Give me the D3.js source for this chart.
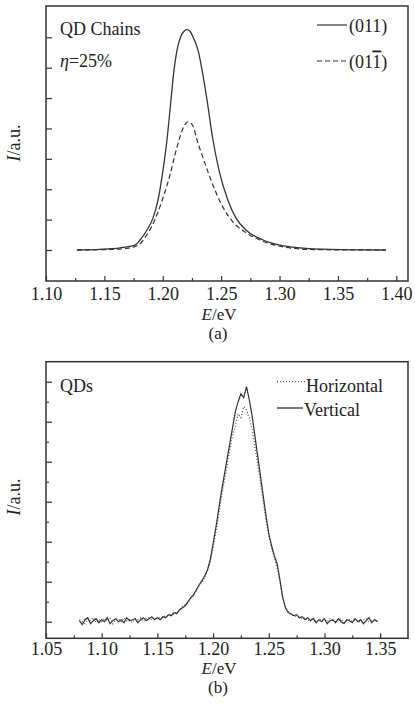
<!DOCTYPE html>
<html>
<head>
<meta charset="utf-8">
<script src="https://cdn.jsdelivr.net/npm/d3@7"></script>
<style>
  body { margin: 0; background: #fff; }
  svg text { font-family: "Liberation Serif", "Times New Roman", serif; font-size: 18px; fill: #222; }
  svg text.title { font-size: 17px; }
</style>
</head>
<body>
<svg width="415" height="708"></svg>
<script>
// (a) QD chains, eta = 25%, two polarisations
const energyA011 = [1.1265, 1.1462, 1.1634, 1.1762, 1.1805, 1.1865, 1.1916, 1.1959, 1.2002, 1.2036,
  1.2070, 1.2096, 1.2122, 1.2156, 1.2182, 1.2207, 1.2233, 1.2259, 1.2302, 1.2344,
  1.2379, 1.2430, 1.2481, 1.2558, 1.2627, 1.2712, 1.2858, 1.3004, 1.3175, 1.3432, 1.3911];
const intensityA011 = [0, 0.02, 0.07, 0.16, 0.33, 0.66, 1.05, 1.64, 2.63, 3.62,
  4.93, 5.92, 6.58, 7.04, 7.20, 7.25, 7.20, 7.01, 6.58, 5.76,
  4.93, 3.62, 2.63, 1.64, 1.05, 0.66, 0.33, 0.16, 0.07, 0.02, 0];

const energyA01T = [1.1265, 1.1548, 1.1676, 1.1753, 1.1813, 1.1856, 1.1908, 1.1959, 1.2010, 1.2062,
  1.2104, 1.2147, 1.2182, 1.2216, 1.2259, 1.2293, 1.2336, 1.2387, 1.2447, 1.2515,
  1.2601, 1.2704, 1.2832, 1.2960, 1.3132, 1.3345, 1.3911];
const intensityA01T = [0, 0.02, 0.05, 0.10, 0.23, 0.46, 0.79, 1.25, 1.81, 2.47,
  3.13, 3.72, 4.08, 4.22, 4.08, 3.62, 3.13, 2.57, 1.97, 1.41,
  0.92, 0.59, 0.33, 0.16, 0.05, 0.01, 0];

// (b) QDs, horizontal / vertical
const energyB = [1.0800, 1.0825, 1.0850, 1.0875, 1.0900, 1.0925, 1.0950, 1.0975,
  1.1000, 1.1025, 1.1050, 1.1075, 1.1100, 1.1125, 1.1150, 1.1175,
  1.1200, 1.1225, 1.1250, 1.1275, 1.1300, 1.1325, 1.1350, 1.1375,
  1.1400, 1.1425, 1.1450, 1.1475,
  1.1500, 1.1525, 1.1550, 1.1575, 1.1600, 1.1625, 1.1650, 1.1675,
  1.1700, 1.1725, 1.1750, 1.1775, 1.1800, 1.1825, 1.1850, 1.1875,
  1.1900, 1.1925, 1.1950, 1.1975,
  1.2000, 1.2025, 1.2050, 1.2075, 1.2100, 1.2125, 1.2150, 1.2175, 1.2200, 1.2225,
  1.2250, 1.2275, 1.2300, 1.2325, 1.2350, 1.2375, 1.2400, 1.2425, 1.2450, 1.2475,
  1.2500, 1.2525, 1.2550, 1.2575, 1.2600, 1.2625, 1.2650, 1.2675, 1.2700, 1.2725,
  1.2750, 1.2775, 1.2800, 1.2825, 1.2850, 1.2875, 1.2900, 1.2925, 1.2950, 1.2975,
  1.3000, 1.3025, 1.3050, 1.3075, 1.3100, 1.3125, 1.3150, 1.3175, 1.3200, 1.3225,
  1.3250, 1.3275, 1.3300, 1.3325, 1.3350, 1.3375, 1.3400, 1.3425, 1.3450, 1.3475];

const intensityVertical = [0.05, -0.15, 0.1, 0.2, -0.1, 0.05, 0.15, -0.05, 0.1, 0.0,
  0.2, -0.1, 0.05, 0.15, 0.0, 0.1, -0.05, 0.2, 0.05, 0.1,
  0.15, -0.05, 0.1, 0.2, 0.05, 0.15, 0.25, 0.1,
  0.2, 0.1, 0.25, 0.2, 0.35, 0.3, 0.45, 0.4, 0.6, 0.7, 0.8, 1.0, 1.2, 1.35, 1.6, 1.85,
  2.05, 2.3, 2.6, 3.1,
  3.9, 4.7, 5.6, 6.5, 7.3, 8.1, 8.9, 9.7, 10.5, 11.0,
  11.4, 11.2, 11.75, 11.1, 10.3, 9.3, 8.3, 7.3, 6.3, 5.3,
  4.4, 3.8, 3.3, 2.9, 2.1, 1.2, 0.7, 0.45, 0.4, 0.3, 0.35, 0.2,
  0.25, 0.1, 0.2, 0.05, 0.15, -0.05, 0.1, 0.0, 0.15, -0.1,
  0.05, 0.1, -0.05, 0.15, 0.0, -0.1, 0.1, 0.05, -0.05, 0.15,
  0.0, 0.1, -0.1, 0.05, 0.2, -0.05, 0.1, 0.0];

const intensityHorizontal = [0.1, 0.0, -0.1, 0.15, 0.05, 0.2, -0.05, 0.1, 0.0, 0.15,
  0.05, 0.2, -0.1, 0.1, 0.15, 0.0, 0.2, 0.05, 0.1, -0.05,
  0.15, 0.1, 0.2, 0.0, 0.15, 0.2, 0.1, 0.2,
  0.15, 0.2, 0.2, 0.3, 0.3, 0.35, 0.4, 0.5, 0.55, 0.75, 0.85, 0.95, 1.15, 1.3, 1.55, 1.8,
  1.95, 2.2, 2.55, 3.0,
  3.7, 4.5, 5.3, 6.2, 7.0, 7.8, 8.6, 9.3, 9.8, 10.4,
  10.2, 10.75, 10.6, 10.2, 9.6, 8.8, 7.9, 7.0, 6.0, 5.1,
  4.3, 3.7, 3.2, 2.7, 2.0, 1.2, 0.75, 0.5, 0.35, 0.3, 0.25, 0.2,
  0.15, 0.2, 0.05, 0.1, 0.2, 0.0, 0.05, 0.15, 0.1, 0.0,
  0.15, 0.05, 0.0, 0.1, 0.15, -0.05, 0.05, 0.1, 0.0, 0.1,
  0.05, -0.05, 0.1, 0.15, 0.0, 0.05, 0.1, 0.05];

// tick values
const xMajorA = [1.10, 1.15, 1.20, 1.25, 1.30, 1.35, 1.40];
const xMinorA = [1.125, 1.175, 1.225, 1.275, 1.325, 1.375];
const yTicksA = [0, 1, 2, 3, 4, 5, 6, 7];
const xMajorB = [1.05, 1.10, 1.15, 1.20, 1.25, 1.30, 1.35];
const xMinorB = [1.075, 1.125, 1.175, 1.225, 1.275, 1.325];
const yMajorB = [0, 2, 4, 6, 8, 10, 12];
const yMinorB = [1, 3, 5, 7, 9, 11];

const INK = '#333';
const svg = d3.select('svg');

/* draws frame, ticks and titles of one panel, returns its scales */
function drawPanel(p) {
  const x = d3.scaleLinear().domain(p.xDomain).range([p.left, p.right]);
  const y = d3.scaleLinear().domain(p.yDomain).range([p.bottom, p.top]);
  const g = svg.append('g');

  g.append('rect')
    .attr('x', p.left).attr('y', p.top)
    .attr('width', p.right - p.left).attr('height', p.bottom - p.top)
    .attr('fill', 'none').attr('stroke', INK).attr('stroke-width', 1.5);

  // x ticks point inward
  g.append('g').attr('transform', `translate(0,${p.bottom})`).attr('color', INK)
    .call(d3.axisBottom(x).tickValues(p.xMinor).tickSize(-3).tickFormat(''))
    .call(s => s.select('.domain').remove());
  g.append('g').attr('transform', `translate(0,${p.bottom})`).attr('color', INK)
    .call(d3.axisBottom(x).tickValues(p.xMajor).tickSize(-5).tickPadding(p.pad).tickFormat(d3.format('.2f')))
    .call(s => s.select('.domain').remove())
    .attr('font-size', null).attr('font-family', null);

  g.append('g').attr('transform', `translate(${p.left},0)`).attr('color', INK)
    .call(d3.axisLeft(y).tickValues(p.yMajor).tickSize(-6).tickFormat(''))
    .call(s => s.select('.domain').remove());
  if (p.yMinor) {
    g.append('g').attr('transform', `translate(${p.left},0)`).attr('color', INK)
      .call(d3.axisLeft(y).tickValues(p.yMinor).tickSize(-3).tickFormat(''))
      .call(s => s.select('.domain').remove());
  }
  g.selectAll('.tick line').attr('stroke-width', 1.2);

  // axis titles
  const yt = g.append('text')
    .attr('transform', `translate(20,${p.yTitleY}) rotate(-90)`)
    .attr('text-anchor', 'middle');
  yt.append('tspan').attr('font-style', 'italic').text('I');
  yt.append('tspan').text('/a.u.');

  const xt = g.append('text').attr('class', 'title')
    .attr('x', 219).attr('y', p.xTitleY).attr('text-anchor', 'middle');
  xt.append('tspan').attr('font-style', 'italic').text('E');
  xt.append('tspan').text('/eV');

  g.append('text').attr('class', 'title')
    .attr('x', 218).attr('y', p.xTitleY + 19).attr('text-anchor', 'middle').text(p.tag);

  return {g, x, y};
}

/* ---------- panel (a) ---------- */
const A = drawPanel({
  left: 46, right: 408, top: 6, bottom: 281,
  xDomain: [1.10, 1.41], yDomain: [-1.02, 8.03],
  xMajor: xMajorA, xMinor: xMinorA, yMajor: yTicksA, pad: 6,
  yTitleY: 143, xTitleY: 320, tag: '(a)'
});

const lineA = (xs, ys) => d3.line()
  .x((d, i) => A.x(xs[i])).y(d => A.y(d))
  .curve(d3.curveMonotoneX)(ys);

A.g.append('path').attr('d', lineA(energyA01T, intensityA01T))
  .attr('fill', 'none').attr('stroke', INK).attr('stroke-width', 1.2).attr('stroke-dasharray', '5,3');
A.g.append('path').attr('d', lineA(energyA011, intensityA011))
  .attr('fill', 'none').attr('stroke', INK).attr('stroke-width', 1.3);

A.g.append('text').attr('x', 60).attr('y', 35).text('QD Chains');
const eta = A.g.append('text').attr('x', 60).attr('y', 66.5);
eta.append('tspan').attr('font-style', 'italic').text('η');
eta.append('tspan').text('=25%');

A.g.append('line').attr('x1', 317).attr('x2', 347).attr('y1', 25).attr('y2', 25)
  .attr('stroke', INK).attr('stroke-width', 1.2);
A.g.append('text').attr('x', 349).attr('y', 31.5).text('(011)');
A.g.append('line').attr('x1', 317).attr('x2', 347).attr('y1', 61).attr('y2', 61)
  .attr('stroke', INK).attr('stroke-width', 1.2).attr('stroke-dasharray', '5,3');
const leg2 = A.g.append('text').attr('x', 349).attr('y', 67.5);
leg2.append('tspan').text('(01');
leg2.append('tspan').style('text-decoration', 'overline').text('1');
leg2.append('tspan').text(')');

/* ---------- panel (b) ---------- */
const B = drawPanel({
  left: 46, right: 408, top: 361.7, bottom: 638.3,
  xDomain: [1.05, 1.375], yDomain: [-0.83, 13.0],
  xMajor: xMajorB, xMinor: xMinorB, yMajor: yMajorB, yMinor: yMinorB, pad: 4,
  yTitleY: 497, xTitleY: 674, tag: '(b)'
});

const lineB = d3.line().x((d, i) => B.x(energyB[i])).y(d => B.y(d));

B.g.append('path').attr('d', lineB(intensityHorizontal))
  .attr('fill', 'none').attr('stroke', '#555').attr('stroke-width', 1.2).attr('stroke-dasharray', '1,2');
B.g.append('path').attr('d', lineB(intensityVertical))
  .attr('fill', 'none').attr('stroke', INK).attr('stroke-width', 1.2);

B.g.append('text').attr('x', 60).attr('y', 391.5).text('QDs');
B.g.append('line').attr('x1', 277).attr('x2', 305).attr('y1', 381.7).attr('y2', 381.7)
  .attr('stroke', '#555').attr('stroke-width', 1.2).attr('stroke-dasharray', '1,2');
B.g.append('text').attr('x', 306).attr('y', 391.5).text('Horizontal');
B.g.append('line').attr('x1', 277).attr('x2', 303).attr('y1', 408).attr('y2', 408)
  .attr('stroke', INK).attr('stroke-width', 1.3);
B.g.append('text').attr('x', 304).attr('y', 416).text('Vertical');
</script>
</body>
</html>
